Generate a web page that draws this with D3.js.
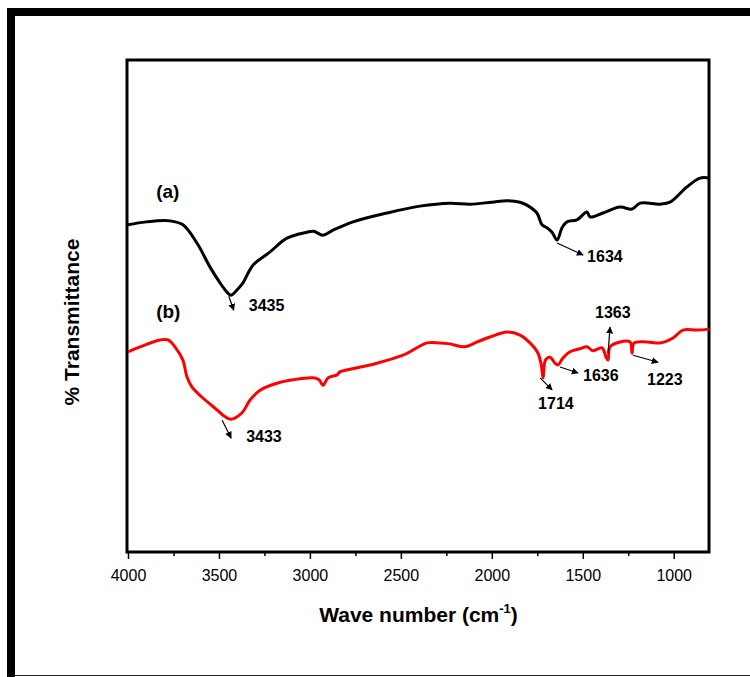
<!DOCTYPE html>
<html>
<head>
<meta charset="utf-8">
<script src="https://cdn.jsdelivr.net/npm/d3@7"></script>
<style>
  body { margin: 0; background: #fff; }
  svg { display: block; font-family: Arial, "Liberation Sans", sans-serif; }
</style>
</head>
<body>
<div id="chart"></div>
<script>
// spectrum (a): wavenumber (cm-1) and % transmittance
const waveA = [4000, 3900, 3769, 3698, 3621, 3549, 3494, 3460, 3435, 3400, 3368, 3313, 3219, 3126, 3016, 2980, 2928, 2873, 2763, 2576, 2395, 2230, 2120, 2000, 1916, 1845, 1807, 1752, 1724, 1697, 1669, 1641, 1614, 1587, 1532, 1477, 1460, 1389, 1295, 1229, 1185, 1075, 1020, 927, 855, 806];
const transA = [66.5, 67.1, 67.3, 66.5, 62.8, 57.9, 54.7, 53.0, 52.2, 53.3, 54.7, 58.3, 61.0, 63.8, 65.0, 65.2, 64.4, 65.4, 67.1, 68.9, 70.3, 70.9, 70.7, 71.1, 71.4, 71.1, 70.5, 68.9, 66.5, 65.9, 65.0, 63.4, 65.9, 67.1, 67.5, 69.1, 68.1, 68.9, 70.1, 69.7, 70.9, 70.7, 71.1, 74.2, 76.0, 76.0];

// spectrum (b)
const waveB = [4000, 3934, 3824, 3780, 3742, 3698, 3676, 3648, 3588, 3511, 3470, 3433, 3373, 3329, 3274, 3181, 3093, 2983, 2950, 2928, 2900, 2851, 2835, 2670, 2488, 2356, 2285, 2230, 2150, 2080, 2010, 1916, 1845, 1790, 1746, 1728, 1718, 1705, 1680, 1653, 1636, 1610, 1570, 1515, 1477, 1444, 1394, 1372, 1361, 1350, 1295, 1240, 1229, 1218, 1147, 1075, 1004, 949, 872, 806];
const transB = [40.7, 41.7, 43.1, 43.1, 41.7, 39.0, 35.6, 33.5, 31.3, 28.9, 27.6, 27.0, 28.3, 30.9, 32.9, 34.3, 35.0, 35.4, 35.0, 33.9, 35.4, 36.0, 36.6, 38.0, 40.0, 42.5, 42.5, 42.3, 41.7, 42.7, 43.7, 44.7, 44.1, 42.5, 40.4, 38.0, 35.4, 39.0, 39.6, 38.4, 38.0, 39.4, 40.7, 41.3, 41.7, 40.9, 41.5, 39.6, 39.0, 41.7, 42.7, 42.7, 40.4, 42.5, 42.7, 42.5, 43.5, 45.1, 45.1, 45.3];

const seriesNames = ["(a)", "(b)"];
const seriesColors = ["#000000", "#ff0000"];

// labelled peaks
const peakSeries = [0, 0, 1, 1, 1, 1, 1];
const peakWave = [3435, 1641, 3433, 1718, 1636, 1361, 1229];
const peakText = ["3435", "1634", "3433", "1714", "1636", "1363", "1223"];

const xTicks = [4000, 3500, 3000, 2500, 2000, 1500, 1000];
const xMinorTicks = [3750, 3250, 2750, 2250, 1750, 1250];

const W = 750, H = 677;
const margin = {top: 60, left: 128, right: 41, bottom: 125};
const width = W - margin.left - margin.right,
    height = H - margin.top - margin.bottom;

const svg = d3.select("#chart")
    .append("svg")
    .attr("width", W)
    .attr("height", H);

// outer picture frame
svg.append("rect").attr("x", 7).attr("y", 8).attr("width", W - 7).attr("height", 8).attr("fill", "#000");
svg.append("rect").attr("x", 7).attr("y", 8).attr("width", 8).attr("height", H - 8).attr("fill", "#000");
svg.append("line").attr("x1", 15).attr("x2", W).attr("y1", 675.5).attr("y2", 675.5)
    .attr("stroke", "#222").attr("stroke-width", 1.2);

const g = svg.append("g")
    .attr("transform", `translate(${margin.left}, ${margin.top})`);

const x = d3.scaleLinear().domain([4000, 806]).range([0, width]);
const y = d3.scaleLinear().domain([0, 100]).range([height, 0]);

// minor ticks
g.append("g")
    .attr("transform", `translate(0, ${height})`)
    .call(d3.axisBottom(x).tickValues(xMinorTicks).tickSize(4).tickFormat(""))
    .call(a => a.select(".domain").remove())
    .call(a => a.selectAll("line").attr("stroke-width", 1.5));

// major ticks + labels
g.append("g")
    .attr("transform", `translate(0, ${height})`)
    .call(d3.axisBottom(x).tickValues(xTicks).tickSize(7).tickPadding(11).tickFormat(d3.format("d")))
    .call(a => a.select(".domain").remove())
    .call(a => a.selectAll("line").attr("stroke-width", 1.5))
    .call(a => a.selectAll("text")
        .attr("fill", "#000")
        .style("font-size", "16px")
        .style("font-family", "Arial, 'Liberation Sans', sans-serif"));

// plot frame
g.append("rect")
    .attr("x", -1)
    .attr("y", 0)
    .attr("width", width + 1)
    .attr("height", height)
    .attr("fill", "none")
    .attr("stroke", "#000")
    .attr("stroke-width", 3);

// spectra
const line = d3.line()
    .x(d => x(d[0]))
    .y(d => y(d[1]))
    .curve(d3.curveCatmullRom.alpha(0.5));

const series = [d3.zip(waveA, transA), d3.zip(waveB, transB)];

series.forEach((pts, i) => {
    g.append("path")
        .datum(pts)
        .attr("fill", "none")
        .attr("stroke", seriesColors[i])
        .attr("stroke-width", 3)
        .attr("stroke-linejoin", "round")
        .attr("d", line);
});

// series names, above the start of each curve
const nameOffset = [27, 34];
series.forEach((pts, i) => {
    g.append("text")
        .attr("x", x(3845))
        .attr("y", y(pts[0][1]) - nameOffset[i])
        .style("font-size", "19px")
        .style("font-weight", "bold")
        .text(seriesNames[i]);
});

// arrow head
svg.append("defs").append("marker")
    .attr("id", "head")
    .attr("viewBox", "0 0 10 10")
    .attr("refX", 9).attr("refY", 5)
    .attr("markerWidth", 7).attr("markerHeight", 7)
    .attr("markerUnits", "userSpaceOnUse")
    .attr("orient", "auto")
    .append("path")
    .attr("d", "M0,0L10,5L0,10z")
    .attr("fill", "#000");

// arrow start, arrow end, label start (pixels from the peak point)
const offsets = {
    "3435": [-2, 1, 3, 15, 18, 16],
    "1634": [0, 3, 26, 15, 30, 22],
    "3433": [-9, 1, 0, 19, 15, 23],
    "1714": [-3, 0, 9, 12, -5, 31],
    "1636": [2, 2, 20, 8, 25, 16],
    "1363": [0, -7, 2, -33, -13, -42],
    "1223": [1, 2, 26, 9, 15, 32]
};

peakText.forEach((t, i) => {
    const s = peakSeries[i];
    const wn = peakWave[i];
    const vals = s === 0 ? transA : transB;
    const waves = s === 0 ? waveA : waveB;
    const v = vals[waves.indexOf(wn)];
    const px = x(wn), py = y(v);
    const o = offsets[t];
    g.append("line")
        .attr("x1", px + o[0]).attr("y1", py + o[1])
        .attr("x2", px + o[2]).attr("y2", py + o[3])
        .attr("stroke", "#000")
        .attr("stroke-width", 1.2)
        .attr("marker-end", "url(#head)");
    g.append("text")
        .attr("x", px + o[4])
        .attr("y", py + o[5])
        .style("font-size", "16px")
        .style("font-weight", "bold")
        .text(t);
});

// axis titles
const xTitle = svg.append("text")
    .attr("x", margin.left + width / 2)
    .attr("y", 622)
    .attr("text-anchor", "middle")
    .style("font-size", "21px")
    .style("font-weight", "bold");
xTitle.append("tspan").text("Wave number (cm");
xTitle.append("tspan").attr("dy", -9).style("font-size", "13px").text("-1");
xTitle.append("tspan").attr("dy", 9).text(")");

svg.append("text")
    .attr("transform", `translate(79, ${margin.top + height / 2 + 16}) rotate(-90)`)
    .attr("text-anchor", "middle")
    .style("font-size", "21px")
    .style("font-weight", "bold")
    .text("% Transmittance");
</script>
</body>
</html>
